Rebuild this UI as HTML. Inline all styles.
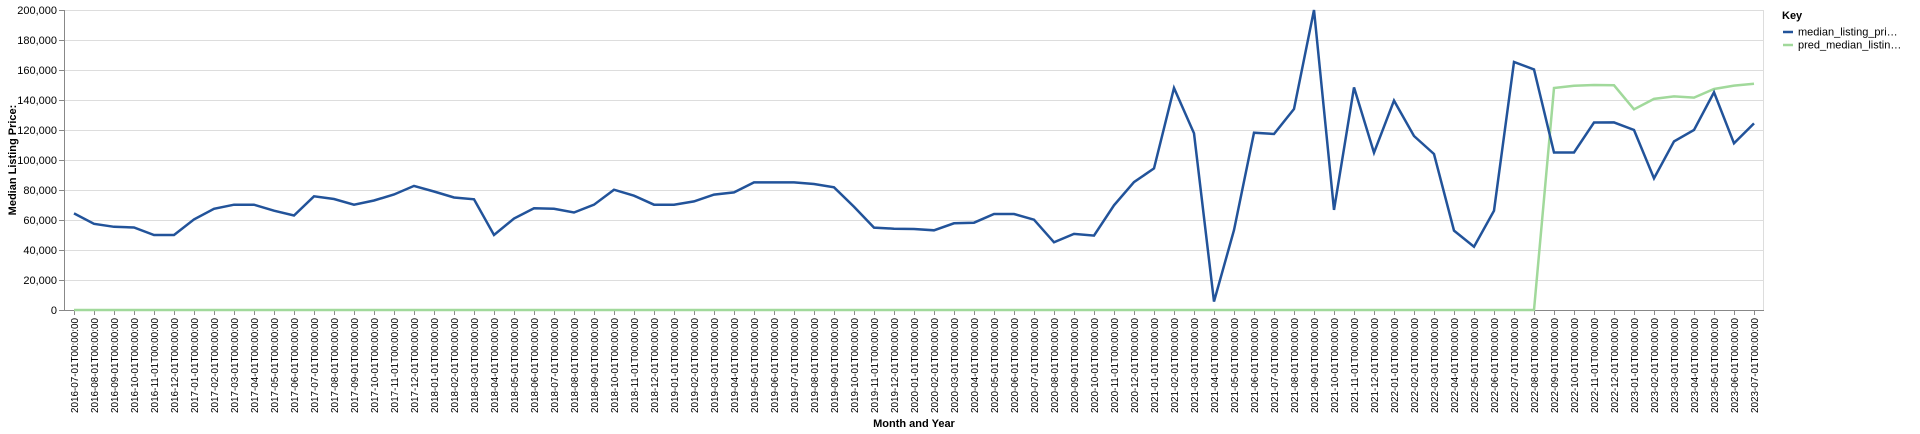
<!DOCTYPE html>
<html><head><meta charset="utf-8"><style>
html,body{margin:0;padding:0;background:#fff;}
svg{display:block;font-family:"Liberation Sans",Arial,sans-serif;}
</style></head><body>
<svg id="chart" width="1920" height="434" viewBox="0 0 1920 434" xmlns="http://www.w3.org/2000/svg"></svg>
<script>
const actualValues=[64.4,57.5,55.5,55,50,50,60.4,67.5,70.2,70.2,66.2,63,75.8,74,70.2,73,77,82.7,79,75,73.8,50,61,67.8,67.5,65,70.2,80.2,76.2,70.2,70.2,72.4,76.9,78.4,85.1,85.1,85.1,84,81.8,68.9,54.9,54.2,54,53.1,57.8,58.2,64,64,60.2,45.1,50.7,49.6,69.8,85.3,94.4,148,117.8,5.6,53.3,118.2,117.3,134,200,66.7,148.4,104.9,139.6,116,104,52.9,42.2,66.2,165.3,160.4,105,105,125,125.1,120,87.8,112.4,120,145.1,111.1,124.4];
const predValues=[0,0,0,0,0,0,0,0,0,0,0,0,0,0,0,0,0,0,0,0,0,0,0,0,0,0,0,0,0,0,0,0,0,0,0,0,0,0,0,0,0,0,0,0,0,0,0,0,0,0,0,0,0,0,0,0,0,0,0,0,0,0,0,0,0,0,0,0,0,0,0,0,0,0,148,149.5,150,149.8,133.8,140.7,142.4,141.6,147.3,149.6,150.9];
const yTicks=[0,20000,40000,60000,80000,100000,120000,140000,160000,180000,200000];
const startYear=2016, startMonth=7, monthCount=85;
const categories=[];
for(let i=0;i<monthCount;i++){const m=(startMonth-1+i)%12+1;const y=startYear+Math.floor((startMonth-1+i)/12);categories.push(y+'-'+String(m).padStart(2,'0')+'-01T00:00:00');}

const NS='http://www.w3.org/2000/svg';
const svg=document.getElementById('chart');
const L=64,R=1764,T=10,B=310;
const x=i=>74+i*(1680/(categories.length-1));
const y=v=>B-(v/200000)*(B-T);
function mk(tag,attrs,parent){const e=document.createElementNS(NS,tag);for(const k in attrs)e.setAttribute(k,attrs[k]);(parent||svg).appendChild(e);return e;}

const grid=mk('g',{});


yTicks.forEach(t=>{
  const l=mk('line',{x1:L,x2:R,y1:y(t)+0.5,y2:y(t)+0.5,stroke:'#ddd','stroke-width':1},grid);
  
  
});
const border=mk('rect',{x:L+0.5,y:T+0.5,width:R-L-1,height:B-T,fill:'none',stroke:'#ddd'});



const ya=mk('g',{});


mk('line',{x1:L+0.5,x2:L+0.5,y1:T,y2:B+0.5,stroke:'#888'},ya);
yTicks.forEach(t=>{
  mk('line',{x1:L-5,x2:L,y1:y(t)+0.5,y2:y(t)+0.5,stroke:'#888'},ya);
  const tx=mk('text',{x:L-7,y:y(t)+4,'text-anchor':'end','font-size':11,fill:'#000'},ya);
  tx.textContent=t.toLocaleString('en-US');
  
  
});
const yt=mk('text',{x:0,y:0,transform:'translate(16,160) rotate(-90)','text-anchor':'middle','font-size':11,'font-weight':'bold',fill:'#000'});
yt.textContent='Median Listing Price:';



const xa=mk('g',{});


mk('line',{x1:L,x2:R,y1:B+0.5,y2:B+0.5,stroke:'#888'},xa);
categories.forEach((c,i)=>{
  mk('line',{x1:x(i)+0.5,x2:x(i)+0.5,y1:B,y2:B+5,stroke:'#888'},xa);
  const tx=mk('text',{x:0,y:0,transform:`translate(${x(i)+4},${B+8}) rotate(-90)`,'text-anchor':'end','font-size':10,textLength:95,lengthAdjust:'spacingAndGlyphs',fill:'#000'},xa);
  tx.textContent=c;
  
  
});
const xt=mk('text',{x:(L+R)/2,y:427,'text-anchor':'middle','font-size':11,'font-weight':'bold',fill:'#000'});
xt.textContent='Month and Year';



function line(vals,color,name){
  const d=vals.map((v,i)=>(i?'L':'M')+x(i).toFixed(1)+','+y(v*1000).toFixed(1)).join('');
  const p=mk('path',{d:d,fill:'none',stroke:color,'stroke-width':2.5,'stroke-linejoin':'miter'});
  
  
}
line(predValues,'#a1d99b','pred-median-listing-line');
line(actualValues,'#22539a','median-listing-price-line');

const lg=mk('g',{});


const kt=mk('text',{x:1782,y:19,'font-size':11,'font-weight':'bold',fill:'#000'},lg);
kt.textContent='Key';
[['median_listing_pri…','#22539a',32],['pred_median_listin…','#a1d99b',45]].forEach(([t,c,yy])=>{
  const g=mk('g',{},lg);
  
  
  mk('line',{x1:1783,x2:1793,y1:yy,y2:yy,stroke:c,'stroke-width':2.5},g);
  const tx=mk('text',{x:1798,y:yy+3.5,'font-size':11,fill:'#000'},g);
  tx.textContent=t;
});
</script>
</body></html>
